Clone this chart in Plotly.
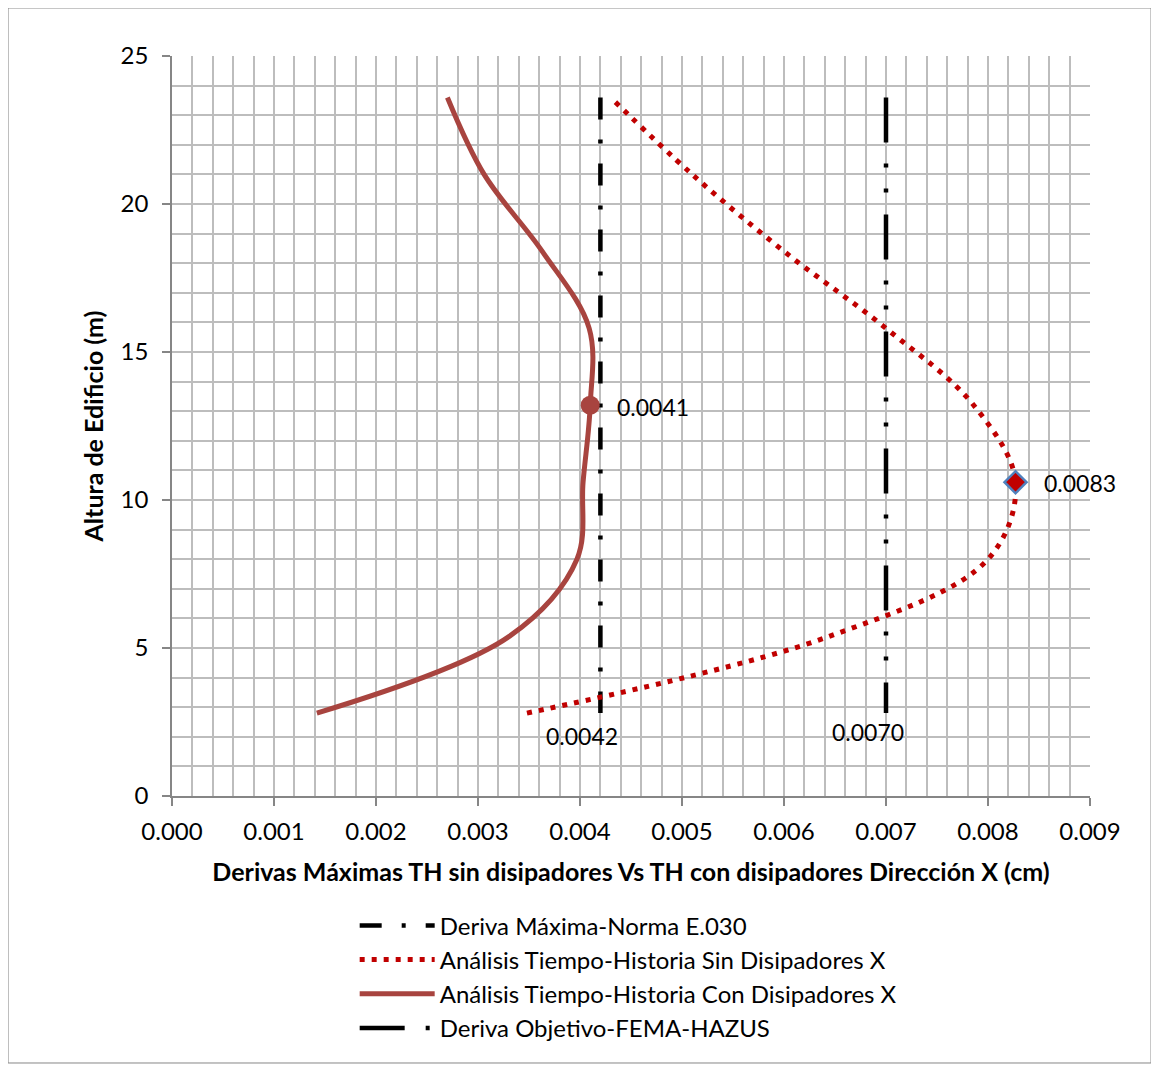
import plotly.graph_objects as go

# ---- data ----
alturas = [2.8, 5.4, 8.0, 10.6, 13.2, 15.8, 18.4, 21.0, 23.6]
sin_disipadores = [0.00348, 0.00645, 0.00800, 0.00827, 0.00786, 0.00700, 0.00600, 0.00510, 0.00430]
con_disipadores = [0.00142, 0.00331, 0.00397, 0.00403, 0.00410, 0.00409, 0.00363, 0.00306, 0.00270]
deriva_e030 = 0.0042
deriva_fema = 0.0070
x_ticks = [0.000, 0.001, 0.002, 0.003, 0.004, 0.005, 0.006, 0.007, 0.008, 0.009]
y_ticks = [0, 5, 10, 15, 20, 25]

FONT = "Lato"
RED = "#C00000"
BROWN = "#A8443F"
GRID = "#BDBDBD"
AXIS = "#868686"

alt_desc = alturas[::-1]
fig = go.Figure()

fig.add_trace(go.Scatter(
    x=[deriva_e030] * len(alt_desc), y=alt_desc, mode="lines",
    name="Deriva Máxima-Norma E.030",
    line=dict(color="black", width=4.5, dash="22px,20px,4px,20px"),
))
fig.add_trace(go.Scatter(
    x=sin_disipadores, y=alturas, mode="lines",
    name="Análisis Tiempo-Historia Sin Disipadores X",
    line=dict(color=RED, width=5, dash="5px,7px", shape="spline", smoothing=1),
))
fig.add_trace(go.Scatter(
    x=con_disipadores, y=alturas, mode="lines",
    name="Análisis Tiempo-Historia Con Disipadores X",
    line=dict(color=BROWN, width=5, shape="spline", smoothing=1),
))
fig.add_trace(go.Scatter(
    x=[deriva_fema] * len(alt_desc), y=alt_desc, mode="lines",
    name="Deriva Objetivo-FEMA-HAZUS",
    line=dict(color="black", width=4.5, dash="45px,21px,4px,21px,4px,22px"),
))

# highlighted points
i_con = 4
i_sin = 3
fig.add_trace(go.Scatter(
    x=[con_disipadores[i_con]], y=[alturas[i_con]], mode="markers",
    marker=dict(color=BROWN, size=19, symbol="circle"), showlegend=False,
))
fig.add_trace(go.Scatter(
    x=[sin_disipadores[i_sin]], y=[alturas[i_sin]], mode="markers",
    marker=dict(color=RED, size=17, symbol="diamond", line=dict(color="#4F81BD", width=2.5)),
    showlegend=False,
))

ann_font = dict(family=FONT, size=23, color="black")
annotations = [
    dict(x=con_disipadores[i_con], y=alturas[i_con], text=f"{con_disipadores[i_con]:.4f}",
         showarrow=False, xanchor="left", yanchor="middle", xshift=25, yshift=-2, font=ann_font),
    dict(x=sin_disipadores[i_sin], y=alturas[i_sin], text=f"{sin_disipadores[i_sin]:.4f}",
         showarrow=False, xanchor="left", yanchor="middle", xshift=26, yshift=-1, font=ann_font),
    dict(x=deriva_e030, y=alturas[0], text=f"{deriva_e030:.4f}",
         showarrow=False, xanchor="center", yanchor="middle", xshift=-18, yshift=-23, font=ann_font),
    dict(x=deriva_fema, y=alturas[0], text=f"{deriva_fema:.4f}",
         showarrow=False, xanchor="center", yanchor="middle", xshift=-18, yshift=-19, font=ann_font),
]

fig.update_layout(
    width=1151, height=1063,
    margin=dict(l=164, r=69, t=48, b=275),
    paper_bgcolor="white", plot_bgcolor="white",
    font=dict(family=FONT, size=24, color="black"),
    annotations=annotations,
    legend=dict(
        x=0.199, y=-0.145, xanchor="left", yanchor="top",
        bgcolor="rgba(0,0,0,0)", font=dict(family=FONT, size=24),
        itemwidth=75, tracegroupgap=0,
    ),
    shapes=[dict(type="rect", xref="paper", yref="paper",
                 x0=-0.1786, x1=1.0665, y0=-0.3608, y1=1.0649,
                 line=dict(color=AXIS, width=1), fillcolor="rgba(0,0,0,0)", layer="below")],
)

fig.update_xaxes(
    range=[0, 0.009], tickvals=x_ticks, ticktext=[f"{v:.3f}" for v in x_ticks],
    showgrid=True, gridcolor=GRID, gridwidth=1.5,
    minor=dict(dtick=0.0002, showgrid=True, gridcolor=GRID, gridwidth=1.5),
    showline=True, linecolor=AXIS, linewidth=1.5,
    ticks="outside", ticklen=8, tickcolor=AXIS, tickwidth=1.5,
    ticklabelstandoff=5,
    tickfont=dict(family=FONT, size=24),
    zeroline=False,
    title=dict(text="<b>Derivas Máximas TH sin disipadores Vs TH con disipadores Dirección X (cm)</b>",
               font=dict(family=FONT, size=25), standoff=20),
)
fig.update_yaxes(
    range=[0, 25], tickvals=y_ticks,
    showgrid=True, gridcolor=GRID, gridwidth=1.5,
    minor=dict(dtick=1, showgrid=True, gridcolor=GRID, gridwidth=1.5),
    showline=True, linecolor=AXIS, linewidth=1.5,
    ticks="outside", ticklen=8, tickcolor=AXIS, tickwidth=1.5,
    ticklabelstandoff=9,
    tickfont=dict(family=FONT, size=24),
    zeroline=False,
    title=dict(text="<b>Altura de Edificio (m)</b>", font=dict(family=FONT, size=25), standoff=10),
)

fig.write_html("out.html")
